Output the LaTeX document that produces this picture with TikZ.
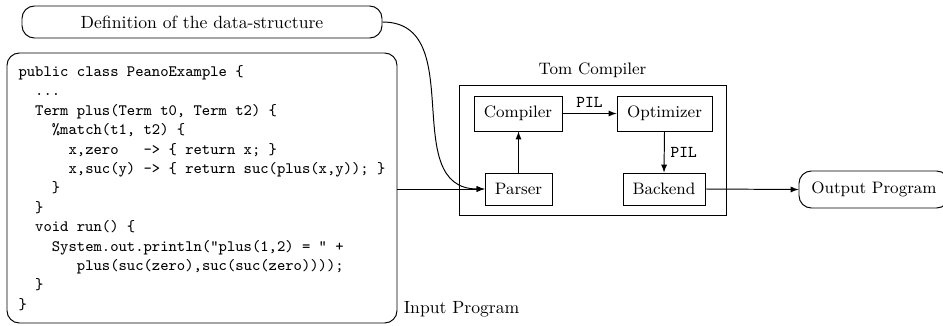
\documentclass[tikz,border=0pt]{standalone}
\usetikzlibrary{arrows}
\newdimen\pxu \pxu=0.5666pt
\newcommand\cind[1]{\hspace*{#1\dimexpr0.525em\relax}}
\begin{document}
\begin{tikzpicture}[x=0.5666pt, y=-0.5666pt, line width=0.55pt,
  rnd/.style={draw, rounded corners=7pt, inner sep=0pt},
  cbox/.style={draw, inner sep=0pt, font=\fontsize{9.4}{11}\selectfont},
  conn/.style={-latex},
  pil/.style={font=\fontsize{9.4}{11}\selectfont\ttfamily}]
\useasboundingbox (0,0) rectangle (943,325);
% left side
\node[rnd, minimum width=360\pxu, minimum height=32\pxu] (def) at (202,22) {Definition of the data-structure};
\node[draw, rounded corners=7pt, minimum width=390\pxu, minimum height=270\pxu, inner sep=0pt,
      align=left, font=\small\ttfamily] (code) at (202,188) {%
public class PeanoExample \{\\
\cind{2}...\\
\cind{2}Term plus(Term t0, Term t2) \{\\
\cind{4}\%match(t1, t2) \{\\
\cind{6}x,zero\ \ \ -> \{ return x; \}\\
\cind{6}x,suc(y) -> \{ return suc(plus(x,y)); \}\\
\cind{4}\}\\
\cind{2}\}\\
\cind{2}void run() \{\\
\cind{4}System.out.println("plus(1,2) = " +\\
\cind{7}plus(suc(zero),suc(suc(zero))));\\
\cind{2}\}\\
\}};
\node[anchor=south west] (inlbl) at (code.south east) {Input Program};
% Tom compiler
\node[draw, minimum width=267\pxu, minimum height=130\pxu, inner sep=0pt] (tom) at (592.5,150) {};
\node[anchor=south, font=\fontsize{9.4}{11}\selectfont] (tomlbl) at (tom.north) {Tom Compiler};
\node[cbox, minimum width=88\pxu, minimum height=35\pxu] (comp) at (518,113.5) {Compiler};
\node[cbox, minimum width=95\pxu, minimum height=35\pxu] (opt) at (664.5,113.5) {Optimizer};
\node[cbox, minimum width=67\pxu, minimum height=32\pxu] (parser) at (518.5,189) {Parser};
\node[cbox, minimum width=82\pxu, minimum height=32\pxu] (back) at (664,189) {Backend};
\node[rnd, font=\fontsize{9.4}{11}\selectfont, minimum width=150\pxu, minimum height=37\pxu] (out) at (874,189.5) {Output Program};
% connectors
\draw[conn] (def.east) .. controls +(87,0) and +(-87,0) .. (parser.west);
\draw[conn] (code.east |- parser.west) -- (parser.west);
\draw[conn] (parser.north) -- (comp.south -| parser.north);
\draw[conn] (comp.east) -- node[above, pil] {PIL} (opt.west);
\draw[conn] (opt.south) -- node[right, pil] {PIL} (back.north);
\draw[conn] (back.east) -- (out.west);
\end{tikzpicture}
\end{document}
